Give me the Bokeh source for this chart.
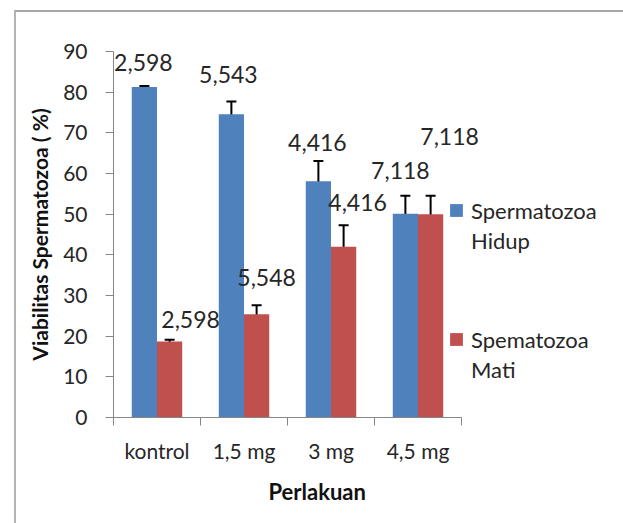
import numpy as np
from bokeh.plotting import figure
from bokeh.models import (Range1d, FixedTicker, SingleIntervalTicker, CustomJSTickFormatter,
                          ColumnDataSource, Whisker, TeeHead, LabelSet, Legend, LegendItem,
                          Title)
from bokeh.core.properties import value
from bokeh.embed import file_html
from bokeh.resources import INLINE

# ---- data ----
categories = ["kontrol", "1,5 mg", "3 mg", "4,5 mg"]
hidup = [81.3, 74.6, 58.1, 50.1]
mati = [18.7, 25.4, 42.0, 50.0]
hidup_upper = [81.5, 77.7, 63.1, 54.5]
hidup_lower = [80.4, 73.7, 57.1, 49.2]
mati_upper = [19.1, 27.6, 47.3, 54.5]
mati_lower = [18.1, 24.9, 41.4, 49.2]
hidup_text = ["2,598", "5,543", "4,416", "7,118"]
mati_text = ["2,598", "5,548", "4,416", "7,118"]
legend_lines = [["Spermatozoa", "Hidup"], ["Spematozoa", "Mati"]]
y_title = "Viabilitas Spermatozoa ( %)"
x_title = "Perlakuan"

# ---- layout (label placement, not data) ----
hidup_label_y = [87.3, 84.3, 67.6, 60.7]
mati_label_y = [24.1, 34.4, 52.9, 69.0]
hidup_label_dx = [-1, -3, -1, -5]
mati_label_dx = [21, 10, 14, 19]

BLUE = "#4F81BD"
RED = "#C0504D"
AXIS = "#868686"
TXT = "#262626"
FONT = "Lato"

W, H = 623, 523
FL, FT, FB, FR = 113, 51, 417, 620          # frame edges (px)
PX_PER_CAT = 87.0
n = len(categories)
x_end = (FR - FL) / PX_PER_CAT

idx = np.arange(n)
bw = 0.29
xb = idx + 0.5 - bw / 2
xr = idx + 0.5 + bw / 2

p = figure(width=W, height=H, output_backend="svg", toolbar_location=None,
           x_range=Range1d(0, x_end), y_range=Range1d(0, 90),
           min_border_left=FL, min_border_right=W - FR, min_border_top=FT,
           min_border_bottom=H - FB)
p.title.text = ""
p.background_fill_color = "white"
p.border_fill_color = None
p.outline_line_color = None
p.xgrid.visible = False
p.ygrid.visible = False
# outer chart border (top and left edges), drawn behind the transparent canvas border
p.styles = {
    "background": ("linear-gradient(#a8a8a8, #a8a8a8) 15px 10px / 620px 2px no-repeat, "
                   "linear-gradient(#b4b4b4, #b4b4b4) 14px 10px / 2px 520px no-repeat, "
                   "white")
}

src_b = ColumnDataSource(dict(x=xb, top=hidup, up=hidup_upper, lo=hidup_lower,
                              ly=hidup_label_y, dx=hidup_label_dx, t=hidup_text))
src_r = ColumnDataSource(dict(x=xr, top=mati, up=mati_upper, lo=mati_lower,
                              ly=mati_label_y, dx=mati_label_dx, t=mati_text))

rb = p.vbar(x="x", top="top", width=bw, bottom=0, source=src_b, fill_color=BLUE, line_color=None)
rr = p.vbar(x="x", top="top", width=bw, bottom=0, source=src_r, fill_color=RED, line_color=None)
# empty, transparent renderer used for the second line of each legend entry
r_blank = p.vbar(x=[], top=[], width=bw, fill_alpha=0, line_alpha=0)

for s in (src_b, src_r):
    w = Whisker(base="x", upper="up", lower="lo", source=s, line_color="black", line_width=2,
                upper_head=TeeHead(size=10, line_color="black", line_width=2),
                lower_head=TeeHead(size=10, line_color="black", line_width=2))
    p.add_layout(w)
    ls = LabelSet(x="x", y="ly", text="t", x_offset="dx", source=s, text_align="center",
                  text_baseline="middle", text_font=value(FONT), text_font_size="23px",
                  text_color=TXT)
    p.add_layout(ls)

# y axis
ya = p.yaxis[0]
ya.ticker = SingleIntervalTicker(interval=10, num_minor_ticks=0)
ya.axis_line_color = AXIS
ya.major_tick_line_color = AXIS
ya.major_tick_out = 8
ya.major_tick_in = 0
ya.minor_tick_line_color = None
ya.major_label_standoff = 18
ya.major_label_text_font = FONT
ya.major_label_text_font_size = "21px"
ya.major_label_text_color = TXT
ya.axis_label = y_title
ya.axis_label_text_font = FONT
ya.axis_label_text_font_size = "21px"
ya.axis_label_text_font_style = "bold"
ya.axis_label_text_color = "#111111"
ya.axis_label_standoff = 8

# x axis
xa = p.xaxis[0]
xa.bounds = (0, n)
xa.ticker = FixedTicker(ticks=list(idx + 0.5), minor_ticks=list(range(n + 1)))
xa.formatter = CustomJSTickFormatter(args=dict(cats=categories),
                                     code="return cats[Math.floor(tick)];")
xa.axis_line_color = AXIS
xa.major_tick_line_color = None
xa.major_tick_out = 0
xa.major_tick_in = 0
xa.minor_tick_line_color = AXIS
xa.minor_tick_out = 8
xa.minor_tick_in = 0
xa.major_label_standoff = 12
xa.major_label_text_font = FONT
xa.major_label_text_font_size = "21px"
xa.major_label_text_color = TXT

# x axis title, below the category labels
xt = Title(text=x_title, align="left", offset=268 - FL, standoff=20, text_font=FONT,
           text_font_size="22px", text_font_style="bold", text_color="#111111")
p.add_layout(xt, "below")

# legend: two blocks, each with a coloured first line and a plain second line
legend_pos = [(335, 162), (335, 33)]
for (l1, l2), r, loc in zip(legend_lines, (rb, rr), legend_pos):
    lg = Legend(items=[LegendItem(label=l1, renderers=[r]),
                       LegendItem(label=l2, renderers=[r_blank])],
                location=loc, orientation="vertical", spacing=0, padding=0, margin=0,
                border_line_color=None, background_fill_alpha=0, glyph_width=16,
                glyph_height=16, label_height=30, label_standoff=7, label_text_font=FONT,
                label_text_font_size="22px", label_text_color=TXT)
    p.add_layout(lg)

open("out.html", "w").write(file_html(p, INLINE))
